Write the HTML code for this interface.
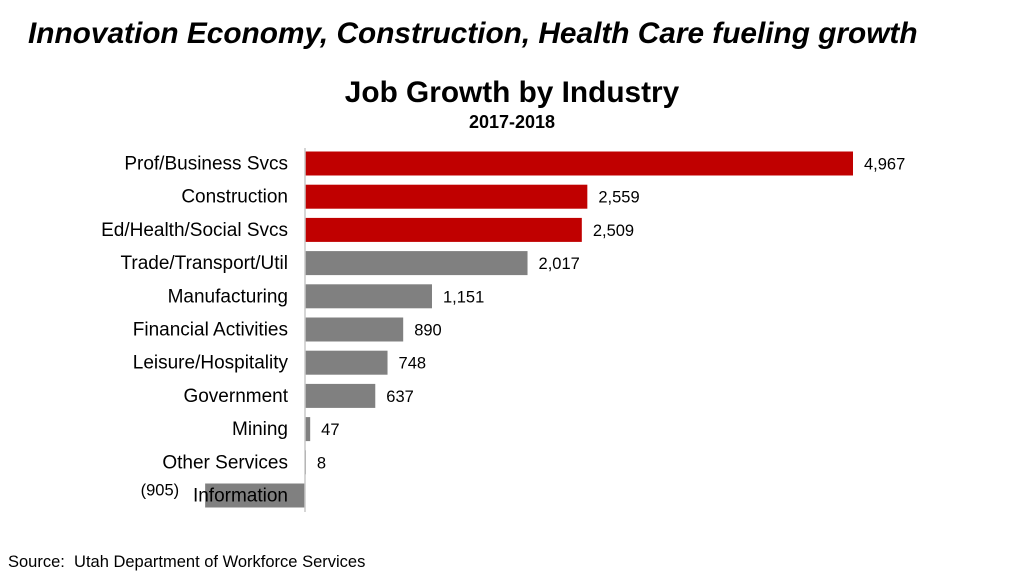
<!DOCTYPE html>
<html><head><meta charset="utf-8"><style>
body{margin:0;width:1024px;height:576px;background:#fff;overflow:hidden;font-family:"Liberation Sans",sans-serif;}
</style></head><body>
<svg width="1024" height="576" xmlns="http://www.w3.org/2000/svg">
<text x="28" y="43" font-size="29.8" font-weight="bold" font-style="italic" fill="#000">Innovation Economy, Construction, Health Care fueling growth</text>
<text x="512" y="102" font-size="29.8" font-weight="bold" text-anchor="middle">Job Growth by Industry</text>
<text x="512" y="128" font-size="18" font-weight="bold" text-anchor="middle">2017-2018</text>
<g id="bars"></g>
<line x1="305" y1="148" x2="305" y2="512" stroke="#c8c8c8" stroke-width="1.5"/>
<text x="8" y="567" font-size="16.5">Source:&#160; Utah Department of Workforce Services</text>
</svg>
<script>
const categories=["Prof/Business Svcs","Construction","Ed/Health/Social Svcs","Trade/Transport/Util","Manufacturing","Financial Activities","Leisure/Hospitality","Government","Mining","Other Services","Information"];
const values=[4967,2559,2509,2017,1151,890,748,637,47,8,-905];
const highlighted=[true,true,true,false,false,false,false,false,false,false,false];
const NS="http://www.w3.org/2000/svg";
const x0=305,scale=548/4967;
const xPos=v=>x0+v*scale;
const yPos=i=>163.5+i*33.2;
const g=document.getElementById("bars");
const fmt=v=>v<0?"("+Math.abs(v).toLocaleString("en-US")+")":v.toLocaleString("en-US");
categories.forEach((c,i)=>{
  const v=values[i],y=yPos(i);
  const r=document.createElementNS(NS,"rect");
  
  
  r.setAttribute("x",Math.min(xPos(v),x0));r.setAttribute("y",y-12);
  r.setAttribute("width",Math.max(Math.abs(xPos(v)-x0),1));r.setAttribute("height",24);
  r.setAttribute("fill",highlighted[i]?"#c00000":"#808080");
  g.appendChild(r);
  const l=document.createElementNS(NS,"text");
  
  
  l.setAttribute("x",288);l.setAttribute("y",y+6);l.setAttribute("text-anchor","end");
  l.setAttribute("font-size","19");l.textContent=c;g.appendChild(l);
  const t=document.createElementNS(NS,"text");
  
  
  t.setAttribute("font-size","16.5");t.setAttribute("y",y+6);
  if(v<0){t.setAttribute("x",xPos(v)-26);t.setAttribute("text-anchor","end");t.setAttribute("y",y);}
  else{t.setAttribute("x",xPos(v)+11);}
  t.textContent=fmt(v);g.appendChild(t);
});
</script>
</body></html>
